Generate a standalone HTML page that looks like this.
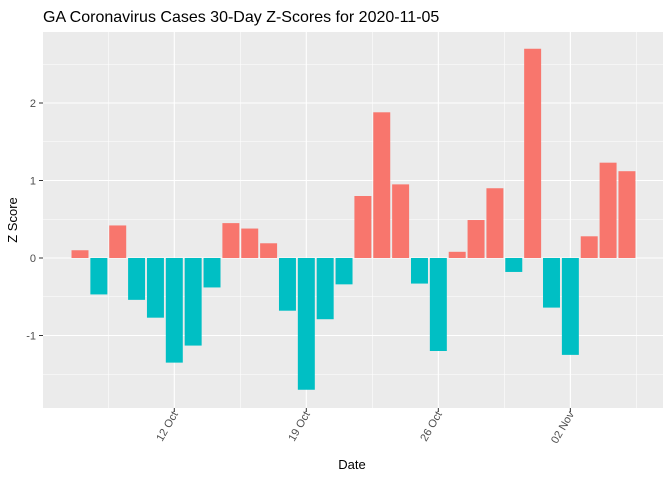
<!DOCTYPE html>
<html><head><meta charset="utf-8"><style>
body{margin:0;background:#fff;}
svg{font-family:"Liberation Sans",Arial,sans-serif;display:block}
</style></head><body>
<svg width="672" height="480" viewBox="0 0 672 480">
<text x="43" y="22" font-size="16" fill="#000">GA Coronavirus Cases 30-Day Z-Scores for 2020-11-05</text>
<rect x="43" y="32" width="620" height="376" fill="#EBEBEB"/>
<g id="grid"></g><g id="bars"></g><g id="axes"></g>
<text x="352" y="469" font-size="13" text-anchor="middle" fill="#000">Date</text>
<text transform="translate(17,220) rotate(-90)" font-size="13" text-anchor="middle" fill="#000">Z Score</text>
</svg>
<script>
const values=[0.10,-0.47,0.42,-0.54,-0.77,-1.35,-1.13,-0.38,0.45,0.38,0.19,-0.68,-1.70,-0.79,-0.34,0.80,1.88,0.95,-0.33,-1.20,0.08,0.49,0.90,-0.18,2.70,-0.64,-1.25,0.28,1.23,1.12];
const yTicks=[-1,0,1,2];
const xTickLabels=["12 Oct","19 Oct","26 Oct","02 Nov"];
const xTickDays=[5,12,19,26];
const ns="http://www.w3.org/2000/svg";
const px=18.86, x0=80, zero=258, py=77.5;
const X=d=>x0+d*px, Y=v=>zero-v*py;
function mk(t,a,p){const e=document.createElementNS(ns,t);for(const k in a)e.setAttribute(k,a[k]);p.appendChild(e);return e;}
const grid=document.getElementById('grid'),bars=document.getElementById('bars'),axes=document.getElementById('axes');
for(let v=-1.5;v<=2.5;v+=0.5){const y=Y(v);if(y<32||y>408)continue;const major=Number.isInteger(v);
const l=mk('line',{x1:43,x2:663,y1:y,y2:y,stroke:'#fff','stroke-width':major?1.1:0.55},grid);

}
xTickDays.forEach((d,i)=>{[d,d-3.5].forEach((dd,j)=>{const x=X(dd);
const l=mk('line',{x1:x,x2:x,y1:32,y2:408,stroke:'#fff','stroke-width':j?0.55:1.1},grid);

});
if(i==xTickDays.length-1){const x=X(d+3.5);const l=mk('line',{x1:x,x2:x,y1:32,y2:408,stroke:'#fff','stroke-width':0.55},grid);

}});
values.forEach((v,i)=>{const w=px*0.9;const r=mk('rect',{x:X(i)-w/2,y:Math.min(Y(v),zero),width:w,height:Math.abs(Y(v)-zero),fill:v>=0?'#F8766D':'#00BFC4'},bars);

});
yTicks.forEach(v=>{const y=Y(v);mk('line',{x1:39,x2:43,y1:y,y2:y,stroke:'#333','stroke-width':1},axes);
const t=mk('text',{x:36,y:y+4,'font-size':11,'text-anchor':'end',fill:'#4D4D4D'},axes);t.textContent=v;

});
xTickDays.forEach((d,i)=>{const x=X(d);mk('line',{x1:x,x2:x,y1:408,y2:412,stroke:'#333','stroke-width':1},axes);
const t=mk('text',{transform:`translate(${x+4},414) rotate(-60)`,'font-size':11,'text-anchor':'end',fill:'#4D4D4D'},axes);t.textContent=xTickLabels[i];

});
</script>
</body></html>
